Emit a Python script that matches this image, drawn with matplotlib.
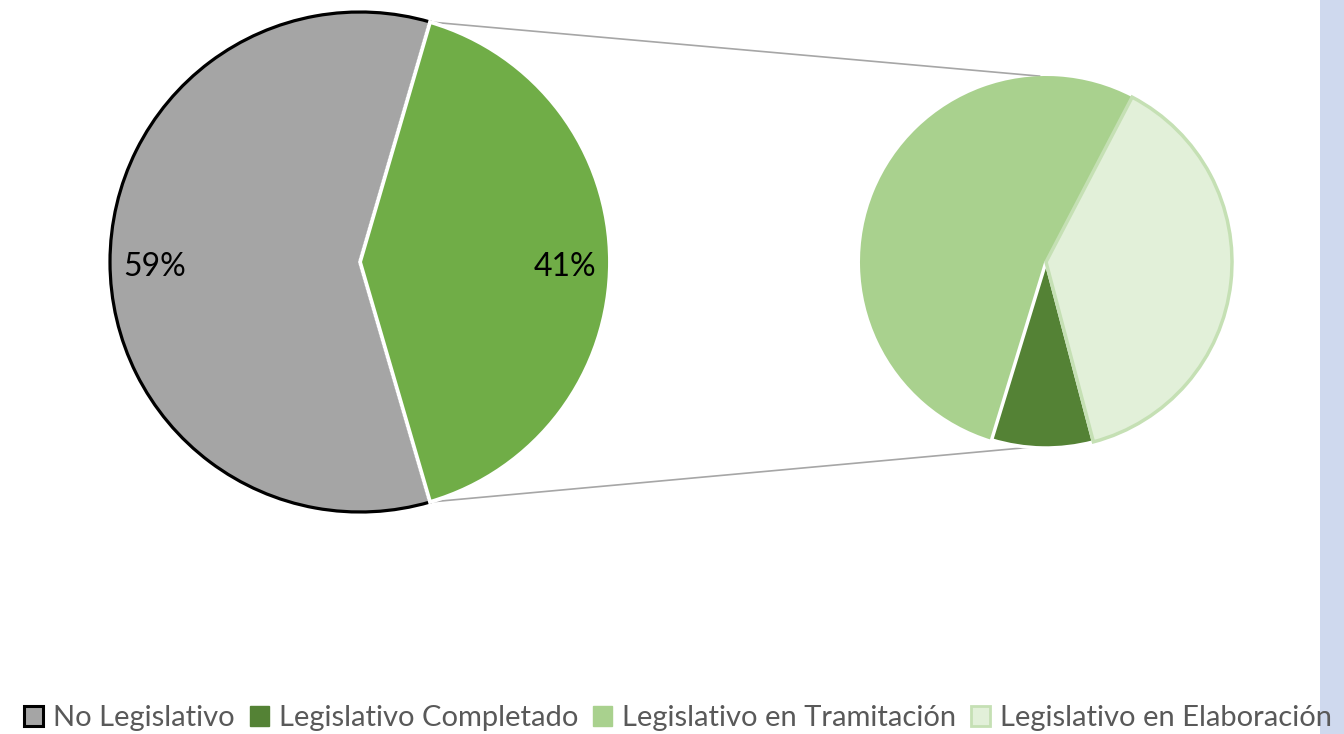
import numpy as np
import matplotlib
matplotlib.use("Agg")
import matplotlib.pyplot as plt
from matplotlib.patches import Patch, Rectangle

plt.rcParams['font.family'] = ['Lato', 'DejaVu Sans']

# data
main_labels = ["No Legislativo", "Legislativo"]
main_values = [49, 34]
sub_labels = ["Legislativo Completado", "Legislativo en Elaboración", "Legislativo en Tramitación"]
sub_values = [3, 13, 18]
legend_labels = ["No Legislativo", "Legislativo Completado",
                 "Legislativo en Tramitación", "Legislativo en Elaboración"]

# colours
GRAY = "#a5a5a5"
GREEN = "#70ad47"
DARK = "#548235"
LIGHT = "#a9d18e"
PALE = "#e2f0d9"
PALE_EDGE = "#c5e0b4"

W, H = 1344, 734
fig = plt.figure(figsize=(W / 100, H / 100), dpi=100)
ax = fig.add_axes([0, 0, 1, 1])

# left pie (pixel coords, y flipped)
c1 = (360, H - 262)
r1 = 250
start1 = 180 * main_values[1] / sum(main_values)
w1, _, t1 = ax.pie(main_values, colors=[GRAY, GREEN], startangle=start1,
                   center=c1, radius=r1, autopct='%1.0f%%', pctdistance=0.82,
                   textprops=dict(fontsize=23, color="black"))
w1[0].set_edgecolor("black"); w1[0].set_linewidth(2.3); w1[0].set_zorder(1)
w1[1].set_edgecolor("white"); w1[1].set_linewidth(2.8); w1[1].set_zorder(2)
for t in t1:
    t.set_zorder(5)
    x, y = t.get_position()
    t.set_position((x, y - 5))

# right pie
c2 = (1046, H - 262)
r2 = 186
w2 = ax.pie(sub_values, colors=[DARK, PALE, LIGHT], startangle=-107,
            center=c2, radius=r2)[0]
w2[0].set_edgecolor("white"); w2[0].set_linewidth(2.5); w2[0].set_zorder(2)
w2[1].set_edgecolor(PALE_EDGE); w2[1].set_linewidth(2.5); w2[1].set_zorder(3)
w2[2].set_edgecolor("none"); w2[2].set_zorder(1)

# connector lines
a_top = np.deg2rad(w1[1].theta2 % 360)
a_bot = np.deg2rad(w1[1].theta1)
p1 = (c1[0] + r1 * np.cos(a_top), c1[1] + r1 * np.sin(a_top))
p2 = (c1[0] + r1 * np.cos(a_bot), c1[1] + r1 * np.sin(a_bot))
q1 = (c2[0] + r2 * np.cos(np.deg2rad(92)), c2[1] + r2 * np.sin(np.deg2rad(92)))
q2 = (c2[0] + r2 * np.cos(np.deg2rad(265)), c2[1] + r2 * np.sin(np.deg2rad(265)))
ax.plot([p1[0], q1[0]], [p1[1], q1[1]], color="#a6a6a6", lw=1.2, zorder=0)
ax.plot([p2[0], q2[0]], [p2[1], q2[1]], color="#a6a6a6", lw=1.2, zorder=0)

ax.set_xlim(0, W)
ax.set_ylim(0, H)
ax.set_aspect('equal')
ax.axis('off')

# blue strip on the right edge
fig.patches.append(Rectangle((1320 / W, 0), 24 / W, 1, transform=fig.transFigure,
                             facecolor="#cfd9ee", edgecolor="none", zorder=0))

handles = [Patch(facecolor=GRAY, edgecolor="black", linewidth=2.2),
           Patch(facecolor=DARK, edgecolor=DARK),
           Patch(facecolor=LIGHT, edgecolor=LIGHT),
           Patch(facecolor=PALE, edgecolor=PALE_EDGE, linewidth=2)]
leg = fig.legend(handles, legend_labels, loc='lower center', bbox_to_anchor=(0.5045, -0.032),
                 ncol=4, frameon=False, fontsize=21, handlelength=0.65, handleheight=0.65,
                 handletextpad=0.35, columnspacing=0.5, labelcolor="#595959")

fig.savefig("out.png", dpi=100)
